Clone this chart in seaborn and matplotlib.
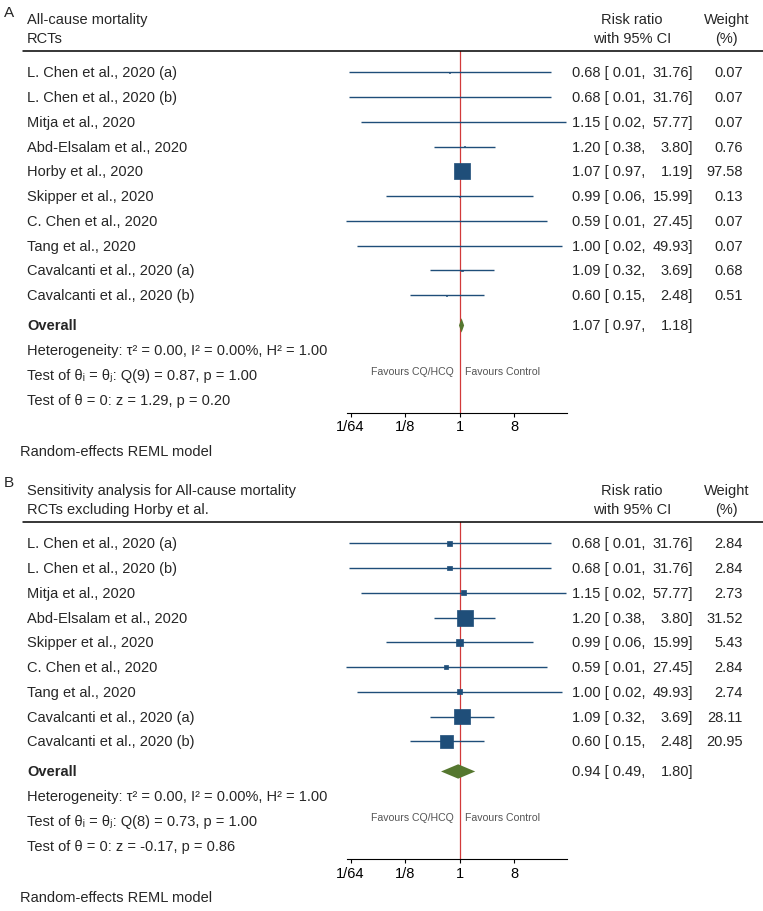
import seaborn as sns
import matplotlib.pyplot as plt
import matplotlib.transforms as mtransforms
from matplotlib.ticker import NullLocator

# ---- data: panel A (all RCTs) ----
studies_a = ["L. Chen et al., 2020 (a)", "L. Chen et al., 2020 (b)", "Mitja et al., 2020",
             "Abd-Elsalam et al., 2020", "Horby et al., 2020", "Skipper et al., 2020",
             "C. Chen et al., 2020", "Tang et al., 2020", "Cavalcanti et al., 2020 (a)",
             "Cavalcanti et al., 2020 (b)"]
rr_a = [0.68, 0.68, 1.15, 1.20, 1.07, 0.99, 0.59, 1.00, 1.09, 0.60]
lo_a = [0.015, 0.015, 0.023, 0.38, 0.97, 0.06, 0.013, 0.020, 0.32, 0.15]
hi_a = [31.76, 31.76, 57.77, 3.80, 1.19, 15.99, 27.45, 49.93, 3.69, 2.48]
w_a = [0.07, 0.07, 0.07, 0.76, 97.58, 0.13, 0.07, 0.07, 0.68, 0.51]
overall_a = [1.07, 0.97, 1.18]
title_a = ["All-cause mortality", "RCTs"]
stats_a = ["Heterogeneity: τ² = 0.00, I² = 0.00%, H² = 1.00",
           "Test of θᵢ = θⱼ: Q(9) = 0.87, p = 1.00",
           "Test of θ = 0: z = 1.29, p = 0.20"]

# ---- data: panel B (excluding Horby) ----
studies_b = ["L. Chen et al., 2020 (a)", "L. Chen et al., 2020 (b)", "Mitja et al., 2020",
             "Abd-Elsalam et al., 2020", "Skipper et al., 2020", "C. Chen et al., 2020",
             "Tang et al., 2020", "Cavalcanti et al., 2020 (a)", "Cavalcanti et al., 2020 (b)"]
rr_b = [0.68, 0.68, 1.15, 1.20, 0.99, 0.59, 1.00, 1.09, 0.60]
lo_b = [0.015, 0.015, 0.023, 0.38, 0.06, 0.013, 0.020, 0.32, 0.15]
hi_b = [31.76, 31.76, 57.77, 3.80, 15.99, 27.45, 49.93, 3.69, 2.48]
w_b = [2.84, 2.84, 2.73, 31.52, 5.43, 2.84, 2.74, 28.11, 20.95]
overall_b = [0.94, 0.49, 1.80]
title_b = ["Sensitivity analysis for All-cause mortality", "RCTs excluding Horby et al."]
stats_b = ["Heterogeneity: τ² = 0.00, I² = 0.00%, H² = 1.00",
           "Test of θᵢ = θⱼ: Q(8) = 0.73, p = 1.00",
           "Test of θ = 0: z = -0.17, p = 0.86"]

tick_vals = [1/64, 1/8, 1, 8]
tick_labels = ["1/64", "1/8", "1", "8"]

sns.set_style("white")
plt.rcParams['font.family'] = ['Liberation Sans', 'DejaVu Sans']

BLUE = "#1F4E79"
GREEN = "#55772F"
RED = "#D23A3A"
FS = 10.5
W, H = 763, 912
ROW = 24.75

fig = plt.figure(figsize=(W / 100, H / 100), dpi=100)


def panel(top_px, letter, title, studies, rr, lo, hi, w, overall, stats):
    n = len(studies)
    rows = list(range(n))
    y_over = n - 1 + 1.22
    y_top = -0.88
    y_bot = y_over + 3.52
    h_px = (y_bot - y_top) * ROW
    ax = fig.add_axes([346.7 / W, 1 - (top_px + h_px) / H, 220.5 / W, h_px / H])
    ax.set_facecolor("none")
    tr = mtransforms.blended_transform_factory(fig.transFigure, ax.transData)

    # CI lines and weighted squares
    ax.hlines(rows, lo, hi, color=BLUE, lw=1.0, clip_on=False, zorder=2)
    sns.scatterplot(x=rr, y=rows, size=w, sizes=(0, 133), size_norm=(0, max(w)),
                    marker="s", color=BLUE, edgecolor=BLUE, linewidth=0.5,
                    legend=False, ax=ax, zorder=3, clip_on=False)
    # overall diamond
    est, olo, ohi = overall
    dh = 0.29
    ax.fill([olo, est, ohi, est], [y_over, y_over - dh, y_over, y_over + dh],
            color=GREEN, lw=0, zorder=3)
    ax.axvline(1, color=RED, lw=0.9, zorder=1)

    ax.set_xscale("log", base=2)
    ax.set_xlim(2 ** -6.21, 2 ** 5.90)
    ax.set_ylim(y_bot, y_top)
    ax.set_xticks(tick_vals)
    ax.set_xticklabels(tick_labels)
    ax.xaxis.set_minor_locator(NullLocator())
    ax.set_yticks([])
    ax.set_xlabel("")
    ax.set_ylabel("")
    for s in ["top", "right", "left"]:
        ax.spines[s].set_visible(False)
    ax.spines["bottom"].set_color("black")
    ax.spines["bottom"].set_linewidth(0.8)
    ax.tick_params(axis="x", length=3, width=0.8, pad=2, labelsize=FS, colors="black",
                   direction="out", bottom=True)

    # favours labels
    yf = y_over + 1.85
    ax.annotate("Favours CQ/HCQ", xy=(1, yf), xytext=(-4, 0), textcoords="offset points",
                ha="right", va="center", fontsize=7.6, color="#555555")
    ax.annotate("Favours Control", xy=(1, yf), xytext=(4, 0), textcoords="offset points",
                ha="left", va="center", fontsize=7.6, color="#555555")

    # header
    ax.text(4 / W, y_top - 1.58, letter, transform=tr, fontsize=FS + 0.5, va="center")
    ax.text(27 / W, y_top - 1.29, title[0], transform=tr, fontsize=FS, va="center")
    ax.text(27 / W, y_top - 0.52, title[1], transform=tr, fontsize=FS, va="center")
    ax.text(632 / W, y_top - 1.29, "Risk ratio", transform=tr, fontsize=FS, va="center", ha="center")
    ax.text(632 / W, y_top - 0.52, "with 95% CI", transform=tr, fontsize=FS, va="center", ha="center")
    ax.text(727 / W, y_top - 1.29, "Weight", transform=tr, fontsize=FS, va="center", ha="center")
    ax.text(726 / W, y_top - 0.52, "(%)", transform=tr, fontsize=FS, va="center", ha="center")
    ax.plot([23 / W, 1.0], [y_top, y_top], transform=tr, color="black", lw=1.1, clip_on=False)

    # study rows
    for i in rows:
        ax.text(27 / W, i, studies[i], transform=tr, fontsize=FS, va="center")
        ax.text(572 / W, i, f"{rr[i]:.2f} [{lo[i]:5.2f},", transform=tr, fontsize=FS, va="center")
        ax.text(693 / W, i, f"{hi[i]:.2f}]", transform=tr, fontsize=FS, va="center", ha="right")
        ax.text(743 / W, i, f"{w[i]:.2f}", transform=tr, fontsize=FS, va="center", ha="right")

    ax.text(27 / W, y_over, "Overall", transform=tr, fontsize=FS, va="center", weight="bold")
    ax.text(572 / W, y_over, f"{est:.2f} [{olo:5.2f},", transform=tr, fontsize=FS, va="center")
    ax.text(693 / W, y_over, f"{ohi:.2f}]", transform=tr, fontsize=FS, va="center", ha="right")
    for k, line in enumerate(stats):
        ax.text(27 / W, y_over + 1 + k, line, transform=tr, fontsize=FS, va="center")

    ax.text(20 / W, y_bot + 1.57, "Random-effects REML model", transform=tr, fontsize=FS, va="center")
    return ax


panel(51.7, "A", title_a, studies_a, rr_a, lo_a, hi_a, w_a, overall_a, stats_a)
panel(522.5, "B", title_b, studies_b, rr_b, lo_b, hi_b, w_b, overall_b, stats_b)

fig.savefig("out.png", dpi=100)
